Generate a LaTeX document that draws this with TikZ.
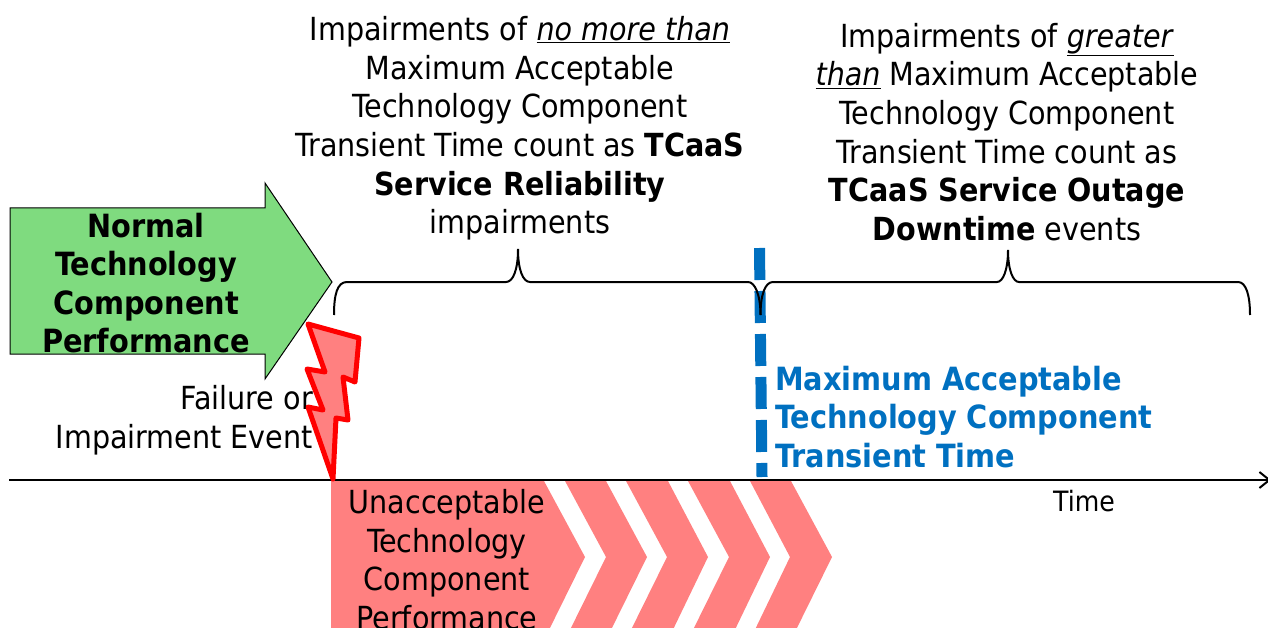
\documentclass[tikz,border=0pt]{standalone}
\usepackage{fontspec}
\setmainfont{DejaVu Sans Condensed}
\usetikzlibrary{arrows.meta}
\definecolor{okgreen}{RGB}{127,219,127}
\definecolor{badred}{RGB}{255,128,128}
\definecolor{limitblue}{RGB}{0,112,192}
\tikzset{
  x=1pt,y=-1pt,
  txt/.style={inner sep=0pt,align=center,text=black,font=\fontsize{31.8}{38.6}\selectfont},
  boldtxt/.style={txt,font=\fontsize{32}{38.6}\selectfont\bfseries},
  bracepath/.style={draw=black,line width=2pt,fill=none},
  chev/.style={fill=badred,draw=none},
}
\begin{document}
\begin{tikzpicture}
\useasboundingbox (0,0) rectangle (1268,628);
\clip (0,0) rectangle (1268,628);
% green arrow
\draw[fill=okgreen,draw=black,line width=1pt] (10,208) -- (265,208) -- (265,183) -- (332,282) -- (265,379) -- (265,354) -- (10,354) -- cycle;
% chevrons
\fill[chev] (331,481) -- (544,481) -- (585,557) -- (544,640) -- (331,640) -- cycle;
\fill[chev] (565,481) -- (606,481) -- (647,557) -- (606,640) -- (565,640) -- (606,557) -- cycle;
\fill[chev] (626,481) -- (668,481) -- (708,557) -- (668,640) -- (626,640) -- (667,557) -- cycle;
\fill[chev] (688,481) -- (730,481) -- (770,557) -- (730,640) -- (688,640) -- (729,557) -- cycle;
\fill[chev] (750,481) -- (791,481) -- (832,557) -- (791,640) -- (750,640) -- (790,557) -- cycle;
% dashed limit
\coordinate (limTop) at (759.5,248);
\coordinate (limBot) at (762,477);
\draw[draw=limitblue,line width=11pt,dash pattern=on 32pt off 11pt] (limTop) -- (limBot);
% axis
\coordinate (axisL) at (9,480);
\coordinate (axisR) at (1271,480);
\draw[line width=2pt,-{Straight Barb[length=10pt,width=16pt]}] (axisL) -- (axisR);
% braces
\draw[bracepath] (334,315) .. controls (334,295) and (337,282) .. (347,282) -- (506,282) .. controls (513,282) and (518,270) .. (518,249) .. controls (518,270) and (523,282) .. (530,282) -- (748,282) .. controls (755,282) and (760.5,295) .. (760.5,315);
\draw[bracepath] (760.5,315) .. controls (760.5,295) and (765,282) .. (773,282) -- (997,282) .. controls (1003,282) and (1008,270) .. (1008,250) .. controls (1008,270) and (1013,282) .. (1019,282) -- (1238,282) .. controls (1246,282) and (1250,295) .. (1250,315);
% texts
\node[txt] (t1) at (520,128.5) {Impairments of \underline{\textit{no more than}}\\Maximum Acceptable\\Technology Component\\Transient Time count as \textbf{TCaaS}\\\textbf{Service Reliability}\\impairments};
\node[txt] (t2) at (1007,132) {Impairments of \underline{\textit{greater}}\\\underline{\textit{than}} Maximum Acceptable\\Technology Component\\Transient Time count as\\\textbf{TCaaS Service Outage}\\\textbf{Downtime} events};
\node[boldtxt] (t3) at (146,283) {Normal\\Technology\\Component\\Performance};
\node[txt,align=right,anchor=east] (t4) at (313,420.5) {Failure or\\Impairment Event};
\node[boldtxt,align=left,anchor=west,text=limitblue] (t5) at (775,417) {Maximum Acceptable\\Technology Component\\Transient Time};
\node[txt] (t6) at (447,559.5) {Unacceptable\\Technology\\Component\\Performance};
\node[txt,font=\fontsize{28}{30}\selectfont] (t7) at (1084,501) {Time};
% lightning
\draw[draw=red,line width=5pt,fill=badred,line join=round] (308,324) -- (359,338) -- (355,382) -- (343,377) -- (348,420) -- (336,418) -- (333,479) -- (308,407) -- (323,410) -- (307,369) -- (325,372) -- cycle;
\end{tikzpicture}
\end{document}
